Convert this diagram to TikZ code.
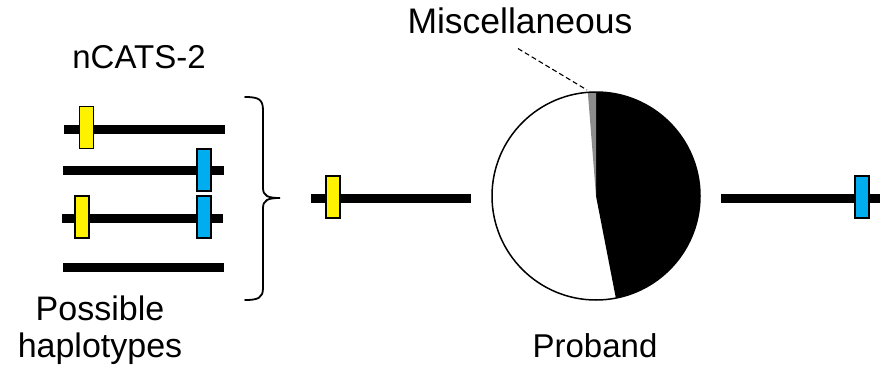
\documentclass[tikz,border=0pt]{standalone}
\usepackage{fontspec}
\setmainfont{Liberation Sans}
\usepackage{xcolor}
\usetikzlibrary{positioning,calc}
\definecolor{ink}    {HTML}{000000}
\definecolor{snp1}   {HTML}{FFF200}
\definecolor{snp2}   {HTML}{00ADEF}
\definecolor{misc}   {HTML}{8C8C8C}
\tikzset{
  hap/.style   ={draw=ink, line width=9pt},
  snpbox/.style={draw=ink, line width=1.5pt, minimum width=14pt,
                 minimum height=42pt, inner sep=0pt},
  ysnp/.style  ={snpbox, fill=snp1},
  bsnp/.style  ={snpbox, fill=snp2},
  lbl/.style   ={font=\fontsize{33}{37}\selectfont, align=center,
                 inner sep=0pt, anchor=base},
  pieline/.style={draw=ink, line width=1.5pt},
  lead/.style  ={draw=ink, line width=1.1pt, dash pattern=on 5pt off 3pt},
}
\begin{document}
\begin{tikzpicture}[x=1pt,y=-1pt]
  \useasboundingbox (0,0) rectangle (880,369);

  \node[lbl] (title) at (139,68) {nCATS-2};
  \node[lbl, font=\fontsize{34}{37}\selectfont] (poss) at (100,357) {Possible\\haplotypes};

  \draw[hap] (64,129) -- (225,129);
  \draw[hap] (63,170) -- (224,170);
  \draw[hap] (62,218) -- (223,218);
  \draw[hap] (63,267) -- (224,267);
  \node[ysnp] (y1) at (86.5,127.5) {};
  \node[bsnp] (b2) at (204,170) {};
  \node[ysnp] (y3) at (82,217) {};
  \node[bsnp] (b3) at (204,217) {};

  \draw[line width=1.8pt, line cap=round]
    (245,97) .. controls (258,97) and (263,99) .. (263,110) -- (263,188)
    .. controls (263,196) and (268,198) .. (280,198)
    .. controls (268,198) and (263,200) .. (263,208) -- (263,288)
    .. controls (263,298) and (258,300) .. (245,300);

  \draw[hap] (311,198) -- (471,198);
  \node[ysnp] (y4) at (333,197) {};

  \coordinate (pie) at (596,196);
  \fill[white] (pie) circle[radius=104];
  \fill[ink] (pie) -- ++(0,-104) arc[start angle=-90, end angle=79, radius=104] -- cycle;
  \fill[misc] (pie) -- ++(0,-104) arc[start angle=-90, end angle=-94.5, radius=104] -- cycle;
  \draw[pieline] (pie) circle[radius=104];

  \node[lbl, font=\fontsize{35.5}{38}\selectfont] (miscl) at (520,34) {Miscellaneous};
  \coordinate (sliver) at (587,90);
  \draw[lead] ($(miscl.south)+(-2,14)$) -- (sliver);
  \node[lbl] (prob) at (595,357) {Proband};

  \draw[hap] (721,198) -- (882,198);
  \node[bsnp] (b4) at (862,197) {};
\end{tikzpicture}
\end{document}
